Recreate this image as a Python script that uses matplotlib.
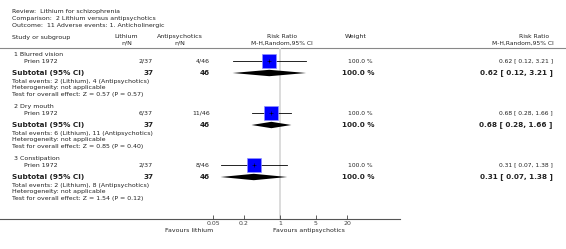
import numpy as np
import matplotlib.pyplot as plt

# forest plot data
groups = ['1 Blurred vision', '2 Dry mouth', '3 Constipation']
studies = ['Prien 1972', 'Prien 1972', 'Prien 1972']
li_events = [2, 6, 2]
li_total = [37, 37, 37]
ap_events = [4, 11, 8]
ap_total = [46, 46, 46]
rr = [0.62, 0.68, 0.31]
ci_lo = [0.12, 0.28, 0.07]
ci_hi = [3.21, 1.66, 1.38]
weights = [100.0, 100.0, 100.0]
z_vals = [0.57, 0.85, 1.54]
p_vals = [0.57, 0.40, 0.12]
ticks = [0.05, 0.2, 1, 5, 20]
tick_labels = ['0.05', '0.2', '1', '5', '20']

W, H = 566, 249
fig = plt.figure(figsize=(W / 100, H / 100), dpi=100)

# text layer in pixel coordinates
tax = fig.add_axes([0, 0, 1, 1])
tax.set_xlim(0, W)
tax.set_ylim(H, 0)
tax.axis('off')

col = '#222222'
fs = 4.5
fsb = 5.2

def txt(x, y, s, ha='left', bold=False, size=None, c=col):
    tax.text(x, y, s, ha=ha, va='center', color=c,
             fontsize=size or (fsb if bold else fs),
             fontweight='bold' if bold else 'normal')

# review header
txt(12, 11, 'Review:  Lithium for schizophrenia')
txt(12, 18, 'Comparison:  2 Lithium versus antipsychotics')
txt(12, 25, 'Outcome:  11 Adverse events: 1. Anticholinergic')

# column headers
txt(12, 37, 'Study or subgroup')
txt(126, 36, 'Lithium', ha='center')
txt(127, 43, 'n/N', ha='center')
txt(180, 36, 'Antipsychotics', ha='center')
txt(180, 43, 'n/N', ha='center')
txt(282, 36, 'Risk Ratio', ha='center', size=4.3)
txt(282, 43, 'M-H,Random,95% CI', ha='center', size=4.3)
txt(356, 36, 'Weight', ha='center')
txt(534, 36, 'Risk Ratio', ha='center', size=4.3)
txt(523, 43, 'M-H,Random,95% CI', ha='center', size=4.3)
tax.plot([0, W], [48, 48], color='#888888', lw=0.8)

# forest axes: log scale, y in pixel rows
x0, x1, x_one, ppd = 180, 390, 280, 51.5
fax = fig.add_axes([x0 / W, (H - 219) / H, (x1 - x0) / W, (219 - 48) / H])
fax.set_xscale('log')
fax.set_xlim(10 ** ((x0 - x_one) / ppd), 10 ** ((x1 - x_one) / ppd))
fax.set_ylim(219, 48)
fax.patch.set_alpha(0)
for s in fax.spines.values():
    s.set_visible(False)
fax.set_yticks([])
fax.set_xticks(ticks)
fax.set_xticklabels(tick_labels)
fax.minorticks_off()
fax.tick_params(axis='x', direction='in', length=3, width=0.6,
                labelsize=4.5, pad=1.5, colors='#444444')
fax.axvline(1, color='#d9d9d9', lw=1.3, zorder=0)

for i in range(len(groups)):
    base = 54 + 52 * i
    ys, yt = base + 7, base + 19
    txt(14, base, groups[i])
    txt(24, ys, studies[i])
    txt(153, ys, f'{li_events[i]}/{li_total[i]}', ha='right')
    txt(210, ys, f'{ap_events[i]}/{ap_total[i]}', ha='right')
    txt(373, ys, f'{weights[i]:.1f} %', ha='right', size=4.3)
    txt(526, ys, f'{rr[i]:.2f} [ {ci_lo[i]:.2f}, {ci_hi[i]:.2f} ]', ha='center', size=4.3)

    txt(12, yt, 'Subtotal (95% CI)', bold=True)
    txt(153, yt, str(li_total[i]), ha='right', bold=True)
    txt(210, yt, str(ap_total[i]), ha='right', bold=True)
    txt(375, yt, f'{weights[i]:.1f} %', ha='right', bold=True)
    txt(516, yt, f'{rr[i]:.2f} [ {ci_lo[i]:.2f}, {ci_hi[i]:.2f} ]', ha='center', bold=True)

    txt(12, base + 27, f'Total events: {li_events[i]} (Lithium), {ap_events[i]} (Antipsychotics)')
    txt(12, base + 33, 'Heterogeneity: not applicable')
    txt(12, base + 40, f'Test for overall effect: Z = {z_vals[i]:.2f} (P = {p_vals[i]:.2f})')

    # study estimate
    fax.plot([ci_lo[i], ci_hi[i]], [ys, ys], color='black', lw=0.6, zorder=2)
    fax.plot(rr[i], ys, marker='s', ms=9.5, mfc='#0000ff', mec='#9090ff',
             mew=0.5, zorder=3)
    fax.plot(rr[i], ys, marker='+', ms=3, color='black', mew=0.4, zorder=4)

    # pooled diamond
    fax.fill([ci_lo[i], rr[i], ci_hi[i], rr[i]], [yt, yt - 3.2, yt, yt + 3.2],
             color='black', lw=0, zorder=3)

# bottom axis line and favours labels
tax.plot([0, 400], [219, 219], color='#555555', lw=0.8)
txt(213, 230, 'Favours lithium', ha='right')
txt(273, 230, 'Favours antipsychotics')

fig.savefig('out.png', dpi=100)
